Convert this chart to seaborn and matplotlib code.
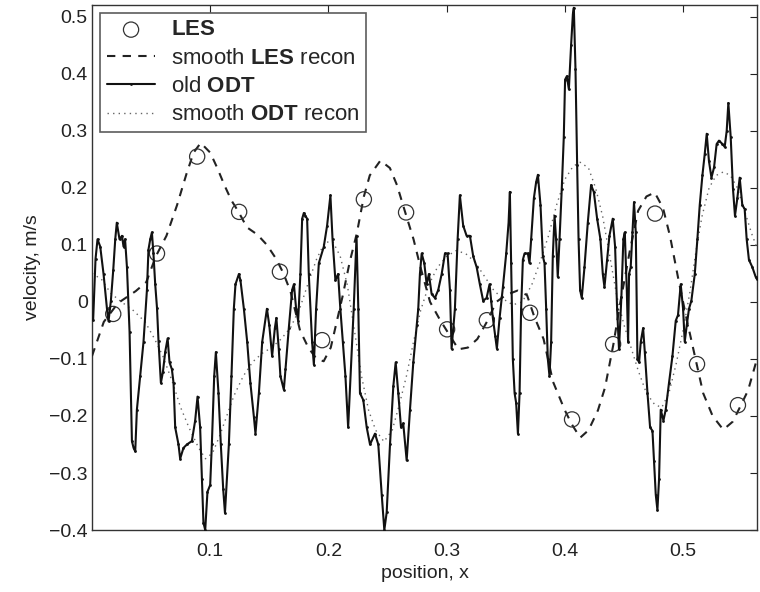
import numpy as np
import pandas as pd
import matplotlib
matplotlib.use("Agg")
import matplotlib.pyplot as plt
import seaborn as sns

# LES samples (circles)
les_x = [0.018, 0.055, 0.089, 0.1245, 0.159, 0.1947, 0.230, 0.2657,
         0.3004, 0.334, 0.3706, 0.4061, 0.4408, 0.4763, 0.5118, 0.5464]
les_y = [-0.021, 0.085, 0.255, 0.158, 0.053, -0.067, 0.180, 0.157,
         -0.048, -0.032, -0.019, -0.206, -0.074, 0.155, -0.109, -0.181]

# smooth LES recon (dashed)
les_rec_x = [0.000, 0.010, 0.022, 0.037, 0.046, 0.054, 0.063, 0.072, 0.080, 0.086,
             0.092, 0.100, 0.106, 0.112, 0.118, 0.124, 0.131, 0.140, 0.148, 0.156,
             0.162, 0.168, 0.176, 0.183, 0.190, 0.196, 0.202, 0.207, 0.212, 0.218,
             0.224, 0.230, 0.235, 0.244, 0.252, 0.258, 0.265, 0.272, 0.278, 0.286,
             0.294, 0.300, 0.310, 0.318, 0.326, 0.334, 0.342, 0.350, 0.360, 0.368,
             0.374, 0.382, 0.390, 0.400, 0.406, 0.413, 0.420, 0.428, 0.434, 0.441,
             0.447, 0.455, 0.462, 0.469, 0.476, 0.483, 0.489, 0.496, 0.503, 0.510,
             0.517, 0.525, 0.534, 0.542, 0.548, 0.555, 0.5625]
les_rec_y = [-0.095, -0.035, -0.002, 0.019, 0.035, 0.080, 0.116, 0.170, 0.225, 0.262,
             0.279, 0.262, 0.235, 0.205, 0.178, 0.158, 0.131, 0.118, 0.100, 0.075,
             0.050, 0.018, -0.050, -0.080, -0.100, -0.104, -0.080, -0.035, 0.010, 0.070,
             0.120, 0.185, 0.222, 0.248, 0.235, 0.205, 0.157, 0.110, 0.060, 0.000,
             -0.030, -0.050, -0.083, -0.080, -0.065, -0.035, 0.000, 0.012, 0.020, 0.012,
             -0.025, -0.065, -0.140, -0.190, -0.215, -0.238, -0.225, -0.190, -0.150, -0.075,
             0.000, 0.090, 0.160, 0.185, 0.192, 0.165, 0.115, 0.040, -0.030, -0.095,
             -0.160, -0.200, -0.224, -0.210, -0.185, -0.155, -0.100]

# old ODT (solid with dots)
odt_x = [0.001, 0.003, 0.0047, 0.007, 0.0098, 0.0127, 0.014, 0.016, 0.018, 0.0197,
         0.021, 0.0233, 0.0254, 0.0267, 0.028, 0.0296, 0.0318, 0.0338, 0.0352, 0.0366,
         0.038, 0.0408, 0.0436, 0.0465, 0.0478, 0.0493, 0.0507, 0.052, 0.0535, 0.055,
         0.0563, 0.0583, 0.060, 0.062, 0.064, 0.0656, 0.0676, 0.069, 0.0704, 0.0732,
         0.0746, 0.0774, 0.0803, 0.0845, 0.0873, 0.0893, 0.0915, 0.093, 0.0943, 0.0958,
         0.0977, 0.100, 0.1014, 0.1034, 0.1048, 0.107, 0.109, 0.111, 0.1125, 0.1158,
         0.118, 0.120, 0.1214, 0.1243, 0.1256, 0.1285, 0.1313, 0.134, 0.137, 0.1383,
         0.1412, 0.144, 0.148, 0.150, 0.1524, 0.1547, 0.156, 0.158, 0.1594, 0.1623,
         0.1637, 0.1665, 0.1693, 0.1708, 0.1727, 0.1744, 0.1763, 0.1778, 0.1792, 0.1806,
         0.182, 0.1834, 0.1862, 0.1877, 0.1896, 0.1919, 0.1961, 0.1989, 0.2017, 0.2035,
         0.2059, 0.2082, 0.2101, 0.2122, 0.2144, 0.2167, 0.2214, 0.2238, 0.2253, 0.2267,
         0.2295, 0.2324, 0.2352, 0.2394, 0.2422, 0.2451, 0.2473, 0.2493, 0.2521, 0.2549,
         0.2569, 0.2591, 0.2614, 0.2633, 0.2662, 0.269, 0.2718, 0.2747, 0.276, 0.2774,
         0.2789, 0.2811, 0.2831, 0.285, 0.2873, 0.2901, 0.2929, 0.2958, 0.2986, 0.3008,
         0.3028, 0.3042, 0.307, 0.3093, 0.3112, 0.314, 0.3169, 0.3197, 0.3225, 0.3254,
         0.3281, 0.3309, 0.3338, 0.3363, 0.3377, 0.3391, 0.3411, 0.3425, 0.3448, 0.3476,
         0.3504, 0.3524, 0.3535, 0.3546, 0.356, 0.3575, 0.3588, 0.3603, 0.3617, 0.363,
         0.3645, 0.3659, 0.3687, 0.3701, 0.3715, 0.3738, 0.3757, 0.3772, 0.3794, 0.3814,
         0.3828, 0.3842, 0.3856, 0.387, 0.3884, 0.3898, 0.3913, 0.3926, 0.394, 0.3955,
         0.3974, 0.3991, 0.4002, 0.4017, 0.4034, 0.4053, 0.4068, 0.4076, 0.409, 0.4104,
         0.4116, 0.4129, 0.4143, 0.4166, 0.4194, 0.4222, 0.4245, 0.4273, 0.4301, 0.4321,
         0.4335, 0.4357, 0.4377, 0.4405, 0.4425, 0.4442, 0.4458, 0.4478, 0.4495, 0.4507,
         0.4524, 0.4535, 0.4543, 0.4557, 0.4572, 0.4585, 0.460, 0.4614, 0.4628, 0.4642,
         0.4662, 0.4676, 0.4699, 0.4721, 0.4741, 0.4754, 0.4769, 0.4783, 0.4797, 0.4811,
         0.4834, 0.4853, 0.4881, 0.491, 0.4938, 0.4957, 0.498, 0.500, 0.5014, 0.5031,
         0.505, 0.507, 0.5099, 0.5121, 0.5141, 0.5164, 0.5183, 0.520, 0.5219, 0.524,
         0.5262, 0.5284, 0.5304, 0.5333, 0.5352, 0.5369, 0.5383, 0.5403, 0.5422, 0.5439,
         0.5459, 0.5479, 0.5501, 0.5521, 0.5538, 0.5557, 0.5586, 0.5614, 0.5625]
odt_y = [-0.032, 0.075, 0.110, 0.097, 0.049, -0.012, -0.034, 0.002, 0.056, 0.110,
         0.139, 0.110, 0.116, 0.097, 0.110, 0.061, -0.052, -0.244, -0.256, -0.262,
         -0.189, -0.130, -0.070, 0.021, 0.092, 0.110, 0.122, 0.085, 0.031, -0.010,
         -0.069, -0.142, -0.123, -0.087, -0.064, -0.106, -0.118, -0.142, -0.220, -0.250,
         -0.275, -0.256, -0.250, -0.244, -0.208, -0.166, -0.220, -0.310, -0.387, -0.400,
         -0.333, -0.321, -0.250, -0.130, -0.088, -0.159, -0.250, -0.328, -0.370, -0.250,
         -0.130, -0.012, 0.031, 0.049, 0.038, -0.012, -0.070, -0.142, -0.202, -0.231,
         -0.160, -0.070, -0.012, -0.041, -0.095, -0.046, -0.028, -0.082, -0.130, -0.154,
         -0.118, -0.046, 0.021, 0.031, -0.012, -0.033, 0.049, 0.146, 0.156, 0.151,
         0.146, 0.049, -0.070, -0.110, -0.012, 0.068, 0.097, 0.134, 0.187, 0.110,
         0.038, 0.049, -0.012, -0.070, -0.130, -0.220, -0.012, 0.115, -0.012, -0.160,
         -0.172, -0.220, -0.250, -0.231, -0.250, -0.338, -0.400, -0.369, -0.250, -0.148,
         -0.106, -0.160, -0.220, -0.213, -0.278, -0.189, -0.106, -0.041, -0.012, 0.049,
         0.085, 0.068, 0.031, 0.049, 0.014, 0.007, 0.021, 0.049, 0.085, 0.085,
         0.021, -0.082, -0.012, 0.110, 0.187, 0.134, 0.116, 0.116, 0.080, 0.061,
         0.031, 0.002, 0.007, 0.031, 0.002, -0.028, -0.059, -0.082, -0.028, 0.026,
         0.085, 0.139, 0.193, 0.068, -0.100, -0.160, -0.177, -0.231, -0.160, -0.012,
         0.074, 0.085, 0.085, 0.068, 0.110, 0.182, 0.210, 0.223, 0.170, 0.080,
         0.068, -0.012, -0.100, -0.130, -0.070, 0.080, 0.151, 0.110, 0.044, 0.110,
         0.199, 0.289, 0.390, 0.396, 0.373, 0.451, 0.505, 0.516, 0.408, 0.241,
         0.110, 0.021, 0.007, 0.061, 0.139, 0.205, 0.193, 0.146, 0.110, 0.049,
         0.026, 0.074, 0.116, 0.146, 0.097, -0.012, -0.083, 0.008, 0.110, 0.122,
         0.021, -0.070, 0.049, 0.061, 0.122, 0.175, 0.122, -0.100, -0.106, -0.070,
         -0.046, -0.087, -0.160, -0.220, -0.226, -0.279, -0.338, -0.365, -0.310, -0.189,
         -0.208, -0.189, -0.142, -0.095, -0.033, -0.023, 0.031, -0.012, -0.070, -0.041,
         -0.012, 0.002, 0.049, 0.110, 0.170, 0.223, 0.259, 0.295, 0.247, 0.218,
         0.236, 0.277, 0.283, 0.277, 0.272, 0.300, 0.349, 0.289, 0.199, 0.151,
         0.182, 0.218, 0.170, 0.163, 0.110, 0.074, 0.061, 0.044, 0.040]

# smooth ODT recon (dotted)
odt_rec_x = [0.000, 0.008, 0.016, 0.025, 0.035, 0.045, 0.053, 0.060, 0.068, 0.075,
             0.082, 0.090, 0.096, 0.102, 0.108, 0.114, 0.120, 0.128, 0.136, 0.144,
             0.152, 0.160, 0.168, 0.176, 0.184, 0.190, 0.197, 0.204, 0.210, 0.216,
             0.222, 0.228, 0.234, 0.240, 0.247, 0.254, 0.260, 0.266, 0.272, 0.278,
             0.285, 0.292, 0.300, 0.308, 0.316, 0.324, 0.332, 0.340, 0.348, 0.356,
             0.364, 0.372, 0.379, 0.386, 0.393, 0.400, 0.407, 0.413, 0.420, 0.426,
             0.432, 0.438, 0.444, 0.450, 0.456, 0.462, 0.469, 0.476, 0.482, 0.488,
             0.494, 0.500, 0.506, 0.511, 0.516, 0.522, 0.528, 0.534, 0.540, 0.546,
             0.552, 0.558, 0.5625]
odt_rec_y = [0.050, 0.040, 0.015, 0.000, -0.015, -0.035, -0.065, -0.095, -0.140, -0.185,
             -0.220, -0.255, -0.275, -0.265, -0.235, -0.200, -0.165, -0.130, -0.105, -0.090,
             -0.080, -0.065, -0.045, -0.010, 0.040, 0.075, 0.105, 0.105, 0.080, 0.030,
             -0.050, -0.130, -0.190, -0.225, -0.245, -0.225, -0.180, -0.130, -0.070, -0.015,
             0.030, 0.060, 0.080, 0.090, 0.085, 0.070, 0.045, 0.020, 0.005, -0.005,
             0.000, 0.030, 0.070, 0.115, 0.170, 0.215, 0.238, 0.245, 0.235, 0.200,
             0.150, 0.080, 0.010, -0.040, -0.080, -0.120, -0.160, -0.180, -0.185, -0.160,
             -0.110, -0.050, 0.020, 0.090, 0.150, 0.200, 0.222, 0.228, 0.222, 0.200,
             0.160, 0.120, 0.095]

yticks = [-0.4, -0.3, -0.2, -0.1, 0, 0.1, 0.2, 0.3, 0.4, 0.5]
ytick_labels = ['\u22120.4', '\u22120.3', '\u22120.2', '\u22120.1', '0',
                '0.1', '0.2', '0.3', '0.4', '0.5']
xticks = [0.1, 0.2, 0.3, 0.4, 0.5]

sns.set_style("white")
plt.rcParams['font.family'] = ['Liberation Sans', 'DejaVu Sans']
plt.rcParams['mathtext.fontset'] = 'custom'
plt.rcParams['mathtext.bf'] = 'Liberation Sans:bold'
plt.rcParams['mathtext.rm'] = 'Liberation Sans'

fig = plt.figure(figsize=(7.6, 5.92), dpi=100)
ax = fig.add_axes([0.121, 0.1047, 0.875, 0.887])

sns.scatterplot(x=les_x, y=les_y, ax=ax, marker='o', s=120, facecolor='none',
                edgecolor='#333333', linewidth=0.9, label=r'$\mathbf{LES}$', zorder=4)
sns.lineplot(x=les_rec_x, y=les_rec_y, ax=ax, color='#222222', linewidth=1.5,
             linestyle=(0, (4, 3.5)), label=r'smooth $\mathbf{LES}$ recon', zorder=3)
sns.lineplot(x=odt_x, y=odt_y, ax=ax, color='#111111', linewidth=1.5,
             marker='.', markersize=4, markeredgewidth=0,
             label=r'old $\mathbf{ODT}$', zorder=5)
sns.lineplot(x=odt_rec_x, y=odt_rec_y, ax=ax, color='#666666', linewidth=1.0,
             linestyle=(0, (1, 3)), label=r'smooth $\mathbf{ODT}$ recon', zorder=2)

ax.set_xlim(0, 0.5625)
ax.set_ylim(-0.4, 0.521)
ax.set_xticks(xticks)
ax.set_xticklabels([str(t) for t in xticks])
ax.set_yticks(yticks)
ax.set_yticklabels(ytick_labels)
ax.tick_params(direction='in', length=5, width=0.8, top=True, right=True,
               labelsize=14, colors='#222222', pad=3)
ax.tick_params(axis='x', pad=9)
for sp in ax.spines.values():
    sp.set_color('#333333')
    sp.set_linewidth(1.0)

ax.set_xlabel('position, x', fontsize=14, color='#222222', labelpad=4)
ax.set_ylabel('velocity, m/s', fontsize=14, color='#222222', labelpad=6)

leg = ax.legend(loc='upper left', bbox_to_anchor=(0.012, 0.985), borderaxespad=0,
                fontsize=16, frameon=True, fancybox=False, handlelength=2.2,
                labelspacing=0.33, borderpad=0.3, handletextpad=0.7)
leg.get_frame().set_edgecolor('#333333')
leg.get_frame().set_linewidth(1.2)

fig.savefig('out.png', dpi=100)
